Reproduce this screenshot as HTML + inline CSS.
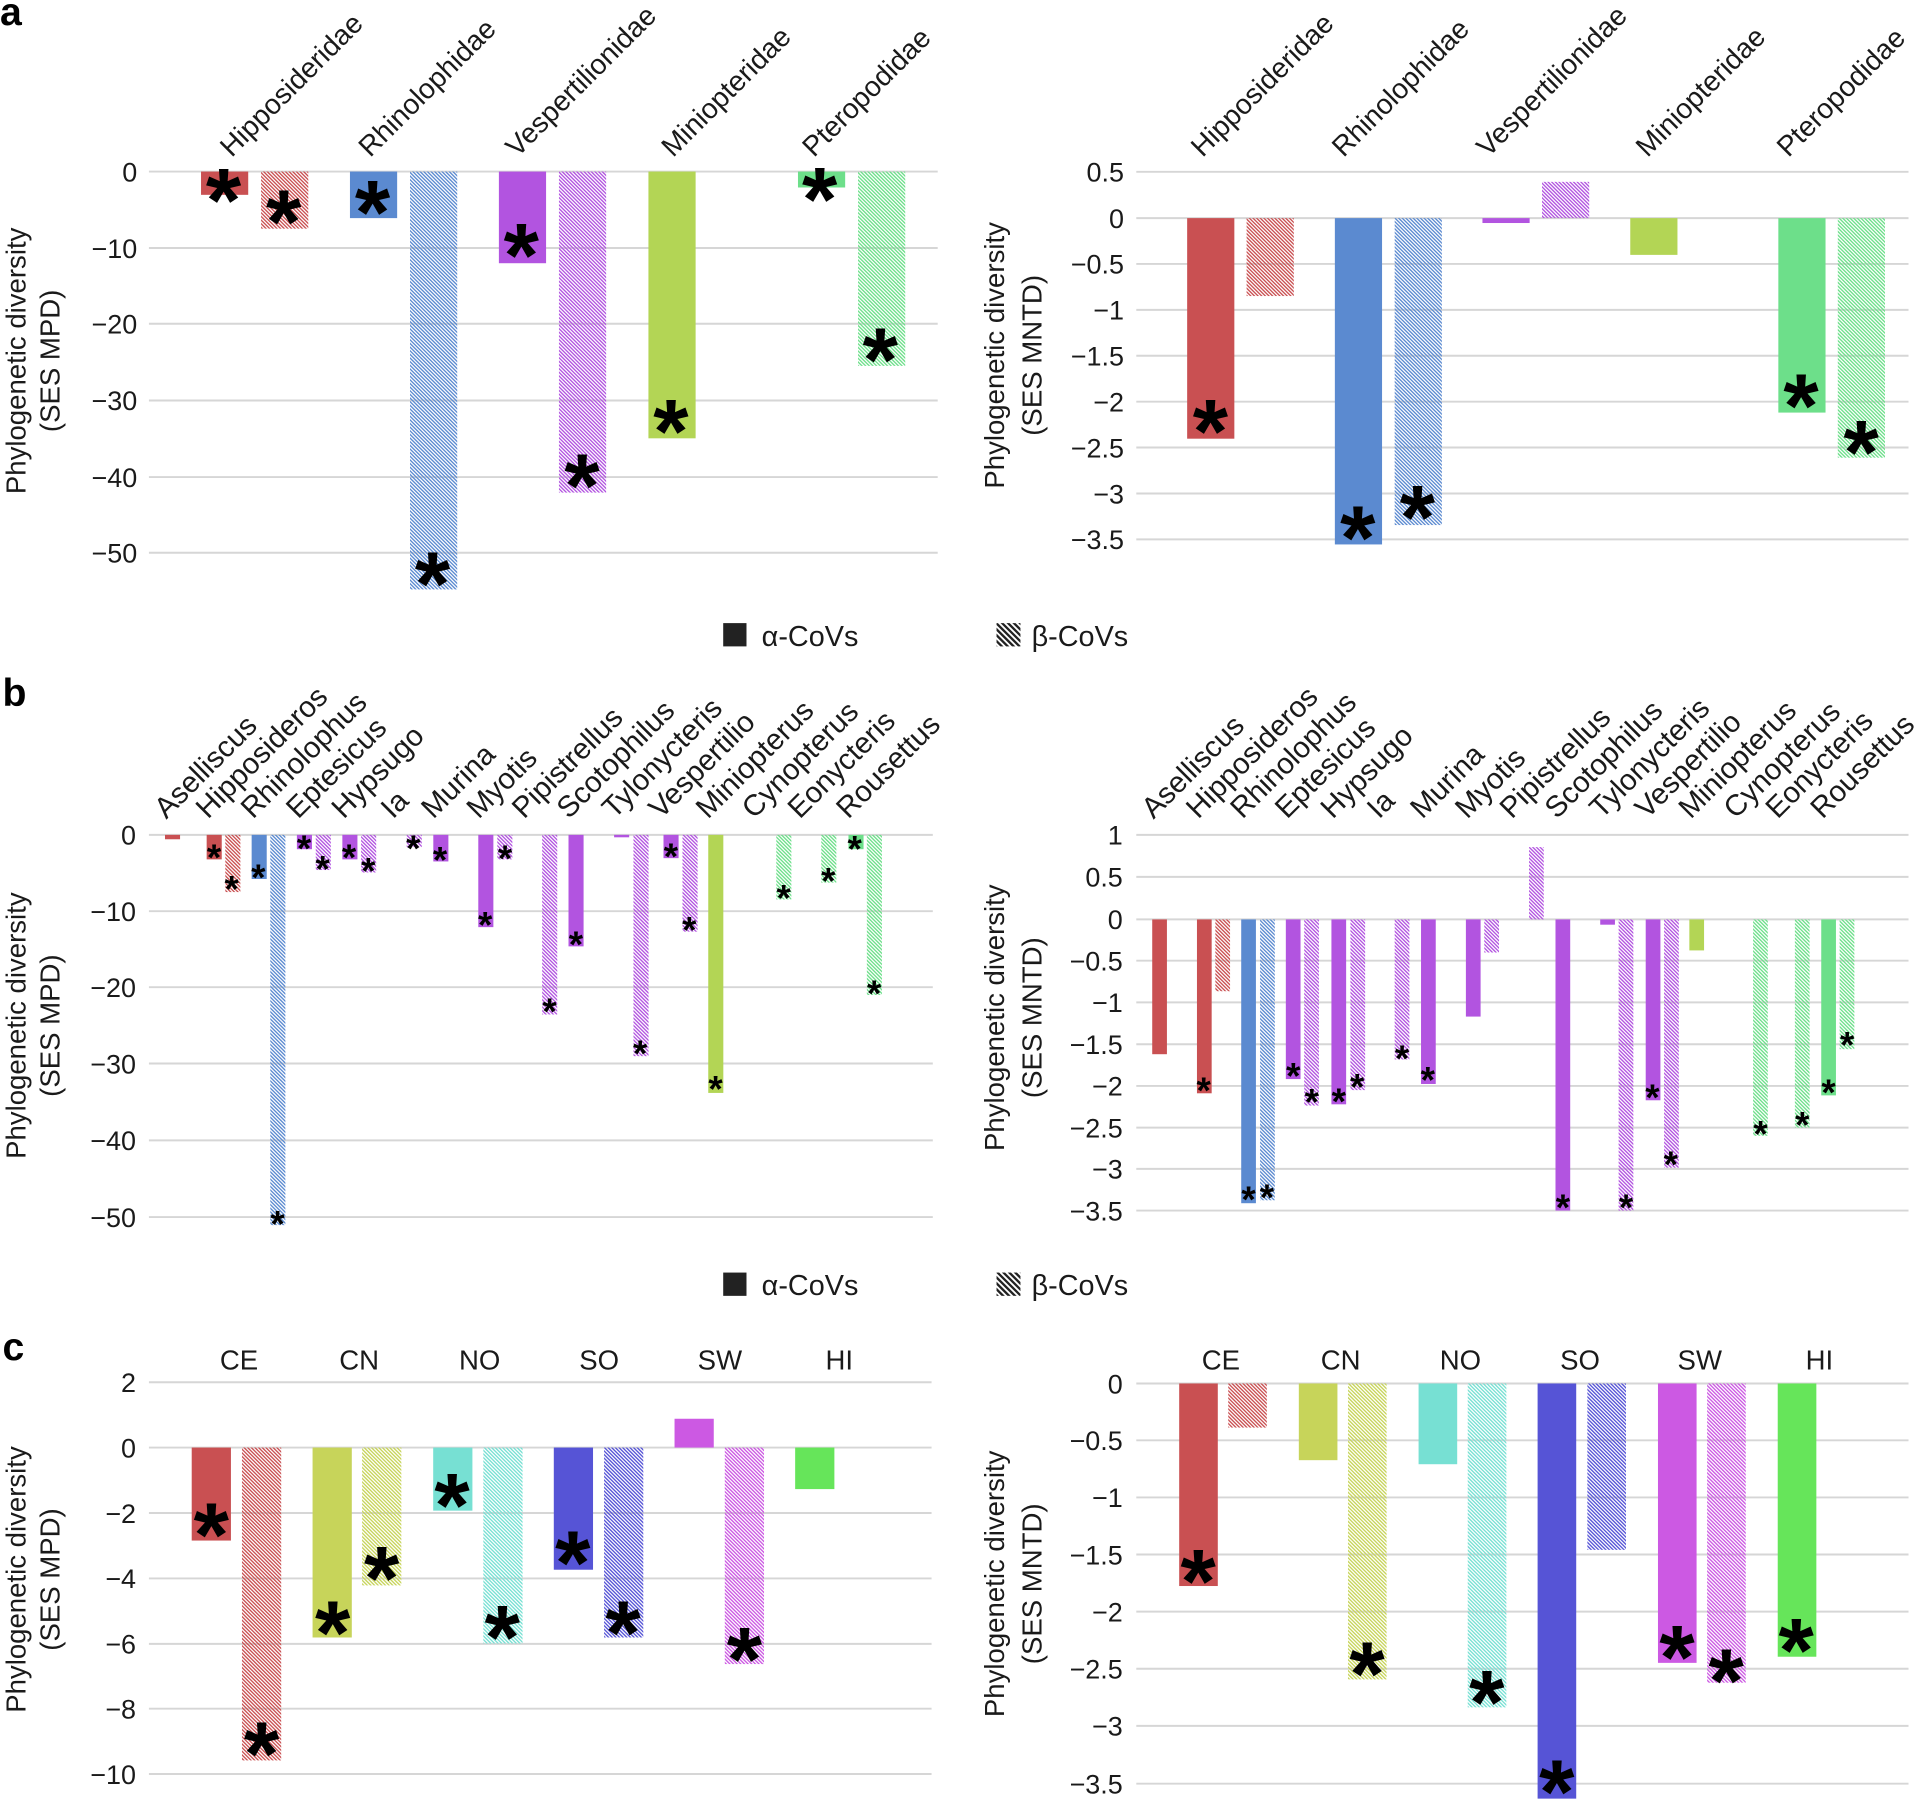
<!DOCTYPE html>
<html><head><meta charset="utf-8"><style>
html,body{margin:0;padding:0;background:#fff;}
svg{display:block;}
.t{font-family:"Liberation Sans",Arial,sans-serif;fill:#1a1a1a;}
.tick{font-size:22px;text-anchor:end;}
.ttl{font-size:22.5px;text-anchor:middle;}
.ca{font-size:23px;}
.cb{font-size:24px;}
.cc{font-size:22.5px;text-anchor:middle;}
.ast{font-size:74px;font-weight:bold;text-anchor:middle;fill:#000;}
.asts{font-size:30px;font-weight:bold;text-anchor:middle;fill:#000;}
.lg{font-size:23.5px;}
.pl{font-size:32px;font-weight:bold;fill:#000;}
.g{stroke:#d6d6d6;stroke-width:1.6;}
</style></head><body>
<svg width="1922" height="1805" viewBox="0 0 1568 1473" preserveAspectRatio="none" xmlns="http://www.w3.org/2000/svg">
<defs>
<pattern id="pR" width="2.1" height="4" patternUnits="userSpaceOnUse" patternTransform="rotate(-45)"><rect width="1.1" height="4" fill="#c95052"/></pattern>
<pattern id="pB" width="2.1" height="4" patternUnits="userSpaceOnUse" patternTransform="rotate(-45)"><rect width="1.1" height="4" fill="#5b8ad0"/></pattern>
<pattern id="pP" width="2.1" height="4" patternUnits="userSpaceOnUse" patternTransform="rotate(-45)"><rect width="1.1" height="4" fill="#b254e0"/></pattern>
<pattern id="pG" width="2.1" height="4" patternUnits="userSpaceOnUse" patternTransform="rotate(-45)"><rect width="1.1" height="4" fill="#6ddf8a"/></pattern>
<pattern id="pCN" width="2.1" height="4" patternUnits="userSpaceOnUse" patternTransform="rotate(-45)"><rect width="1.1" height="4" fill="#c7d45a"/></pattern>
<pattern id="pNO" width="2.1" height="4" patternUnits="userSpaceOnUse" patternTransform="rotate(-45)"><rect width="1.1" height="4" fill="#77e0d3"/></pattern>
<pattern id="pSO" width="2.1" height="4" patternUnits="userSpaceOnUse" patternTransform="rotate(-45)"><rect width="1.1" height="4" fill="#5654d6"/></pattern>
<pattern id="pSW" width="2.1" height="4" patternUnits="userSpaceOnUse" patternTransform="rotate(-45)"><rect width="1.1" height="4" fill="#cc59e3"/></pattern>
<pattern id="pK" width="3.4" height="4" patternUnits="userSpaceOnUse" patternTransform="rotate(-45)"><rect width="1.9" height="4" fill="#222"/></pattern>
</defs>
<rect x="0" y="0" width="1568" height="1473" fill="#fff"/>

<!-- ============ PANEL A ============ -->
<text class="t pl" x="0" y="20.6">a</text>
<g class="g">
<line x1="121.5" y1="140" x2="765" y2="140"/>
<line x1="121.5" y1="202.4" x2="765" y2="202.4"/>
<line x1="121.5" y1="264.2" x2="765" y2="264.2"/>
<line x1="121.5" y1="326.8" x2="765" y2="326.8"/>
<line x1="121.5" y1="389.3" x2="765" y2="389.3"/>
<line x1="121.5" y1="451.1" x2="765" y2="451.1"/>
</g>
<g class="t tick">
<text x="112" y="148">0</text>
<text x="112" y="210.4">−10</text>
<text x="112" y="272.2">−20</text>
<text x="112" y="334.8">−30</text>
<text x="112" y="397.3">−40</text>
<text x="112" y="459.1">−50</text>
</g>
<text class="t ttl" transform="translate(21,294.5) rotate(-90)">Phylogenetic diversity</text>
<text class="t ttl" transform="translate(48.5,294.5) rotate(-90)">(SES MPD)</text>
<g class="t ca">
<text transform="translate(189,129) rotate(-45)">Hipposideridae</text>
<text transform="translate(302,129) rotate(-45)">Rhinolophidae</text>
<text transform="translate(422,129) rotate(-45)">Vespertilionidae</text>
<text transform="translate(549,129) rotate(-45)">Miniopteridae</text>
<text transform="translate(664,129) rotate(-45)">Pteropodidae</text>
</g>
<rect x="164" y="140" width="38.5" height="19" fill="#c95052"/>
<rect x="213" y="140" width="38.5" height="46.6" fill="url(#pR)"/>
<rect x="285.5" y="140" width="38.5" height="38" fill="#5b8ad0"/>
<rect x="334.5" y="140" width="38.5" height="341" fill="url(#pB)"/>
<rect x="407" y="140" width="38.5" height="74.8" fill="#b254e0"/>
<rect x="456" y="140" width="38.5" height="262" fill="url(#pP)"/>
<rect x="529" y="140" width="38.5" height="217.7" fill="#b3d555"/>
<rect x="651" y="140" width="38.5" height="13" fill="#6ddf8a"/>
<rect x="700" y="140" width="38.5" height="158.6" fill="url(#pG)"/>
<g class="t ast" transform="translate(0,-6.5)">
<text x="182.4" y="195.6">*</text>
<text x="231.4" y="212.8">*</text>
<text x="303.9" y="205.2">*</text>
<text x="352.9" y="508.3">*</text>
<text x="425.3" y="240.3">*</text>
<text x="474.8" y="428.5">*</text>
<text x="547.3" y="383.9">*</text>
<text x="668.7" y="194.6">*</text>
<text x="718.2" y="325.5">*</text>
</g>

<g class="g">
<line x1="927" y1="140.2" x2="1557" y2="140.2"/>
<line x1="927" y1="178" x2="1557" y2="178"/>
<line x1="927" y1="215.4" x2="1557" y2="215.4"/>
<line x1="927" y1="252.9" x2="1557" y2="252.9"/>
<line x1="927" y1="290.3" x2="1557" y2="290.3"/>
<line x1="927" y1="327.8" x2="1557" y2="327.8"/>
<line x1="927" y1="365.2" x2="1557" y2="365.2"/>
<line x1="927" y1="402.7" x2="1557" y2="402.7"/>
<line x1="927" y1="440.2" x2="1557" y2="440.2"/>
</g>
<g class="t tick">
<text x="917" y="148.2">0.5</text>
<text x="917" y="186">0</text>
<text x="917" y="223.4">−0.5</text>
<text x="917" y="260.9">−1</text>
<text x="917" y="298.3">−1.5</text>
<text x="917" y="335.8">−2</text>
<text x="917" y="373.2">−2.5</text>
<text x="917" y="410.7">−3</text>
<text x="917" y="448.2">−3.5</text>
</g>
<text class="t ttl" transform="translate(819,290) rotate(-90)">Phylogenetic diversity</text>
<text class="t ttl" transform="translate(849.5,290) rotate(-90)">(SES MNTD)</text>
<g class="t ca">
<text transform="translate(981,129) rotate(-45)">Hipposideridae</text>
<text transform="translate(1096,129) rotate(-45)">Rhinolophidae</text>
<text transform="translate(1214,129) rotate(-45)">Vespertilionidae</text>
<text transform="translate(1344,129) rotate(-45)">Miniopteridae</text>
<text transform="translate(1459,129) rotate(-45)">Pteropodidae</text>
</g>
<rect x="968.5" y="178" width="38.5" height="180" fill="#c95052"/>
<rect x="1017" y="178" width="38.5" height="63.6" fill="url(#pR)"/>
<rect x="1089" y="178" width="38.5" height="266.3" fill="#5b8ad0"/>
<rect x="1137.8" y="178" width="38.5" height="250.5" fill="url(#pB)"/>
<rect x="1209.4" y="178" width="38.5" height="4" fill="#b254e0"/>
<rect x="1258" y="148.4" width="38.5" height="29.6" fill="url(#pP)"/>
<rect x="1330" y="178" width="38.5" height="30" fill="#b3d555"/>
<rect x="1450.8" y="178" width="38.5" height="158.7" fill="#6ddf8a"/>
<rect x="1499.3" y="178" width="38.5" height="195.5" fill="url(#pG)"/>
<g class="t ast" transform="translate(0,-6.5)">
<text x="987.5" y="383.9">*</text>
<text x="1107.7" y="470.8">*</text>
<text x="1156.3" y="454.3">*</text>
<text x="1469.3" y="363.3">*</text>
<text x="1518.4" y="401">*</text>
</g>

<rect x="590" y="508.5" width="19" height="19" fill="#222"/>
<text class="t lg" x="621.4" y="527">α-CoVs</text>
<rect x="813" y="508.5" width="19.5" height="19" fill="url(#pK)"/>
<text class="t lg" x="841.6" y="527">β-CoVs</text>

<!-- ============ PANEL B ============ -->
<text class="t pl" x="2" y="576">b</text>
<g class="g">
<line x1="121.5" y1="681.3" x2="761" y2="681.3"/>
<line x1="121.5" y1="743.6" x2="761" y2="743.6"/>
<line x1="121.5" y1="805.6" x2="761" y2="805.6"/>
<line x1="121.5" y1="867.9" x2="761" y2="867.9"/>
<line x1="121.5" y1="930.6" x2="761" y2="930.6"/>
<line x1="121.5" y1="993.2" x2="761" y2="993.2"/>
</g>
<g class="t tick">
<text x="111" y="689.3">0</text>
<text x="111" y="751.6">−10</text>
<text x="111" y="813.6">−20</text>
<text x="111" y="875.9">−30</text>
<text x="111" y="938.6">−40</text>
<text x="111" y="1001.2">−50</text>
</g>
<text class="t ttl" transform="translate(21,837) rotate(-90)">Phylogenetic diversity</text>
<text class="t ttl" transform="translate(48.5,837) rotate(-90)">(SES MPD)</text>
<g class="t cb">
<text transform="translate(135.6,669) rotate(-45)">Aselliscus</text>
<text transform="translate(169.6,669) rotate(-45)">Hipposideros</text>
<text transform="translate(206.3,669) rotate(-45)">Rhinolophus</text>
<text transform="translate(243.2,669) rotate(-45)">Eptesicus</text>
<text transform="translate(280.3,669) rotate(-45)">Hypsugo</text>
<text transform="translate(320.5,669) rotate(-45)">Ia</text>
<text transform="translate(353.5,669) rotate(-45)">Murina</text>
<text transform="translate(390.5,669) rotate(-45)">Myotis</text>
<text transform="translate(427.5,669) rotate(-45)">Pipistrellus</text>
<text transform="translate(464,669) rotate(-45)">Scotophilus</text>
<text transform="translate(501,669) rotate(-45)">Tylonycteris</text>
<text transform="translate(539,669) rotate(-45)">Vespertilio</text>
<text transform="translate(577.5,669) rotate(-45)">Miniopterus</text>
<text transform="translate(615,669) rotate(-45)">Cynopterus</text>
<text transform="translate(652.5,669) rotate(-45)">Eonycteris</text>
<text transform="translate(692,669) rotate(-45)">Rousettus</text>
</g>
<rect x="134.6" y="681.3" width="12.3" height="3.6" fill="#c95052"/>
<rect x="168.6" y="681.3" width="12.3" height="20" fill="#c95052"/>
<rect x="183.8" y="681.3" width="12.3" height="46.7" fill="url(#pR)"/>
<rect x="205.3" y="681.3" width="12.3" height="36" fill="#5b8ad0"/>
<rect x="220.5" y="681.3" width="12.3" height="318.5" fill="url(#pB)"/>
<rect x="242.2" y="681.3" width="12.3" height="11.7" fill="#b254e0"/>
<rect x="257.6" y="681.3" width="12.3" height="28.7" fill="url(#pP)"/>
<rect x="279.3" y="681.3" width="12.3" height="20" fill="#b254e0"/>
<rect x="294.6" y="681.3" width="12.3" height="30.7" fill="url(#pP)"/>
<rect x="331.8" y="681.3" width="12.3" height="10" fill="url(#pP)"/>
<rect x="353.5" y="681.3" width="12.3" height="21.7" fill="#b254e0"/>
<rect x="390.2" y="681.3" width="12.3" height="75.3" fill="#b254e0"/>
<rect x="405.7" y="681.3" width="12.3" height="20" fill="url(#pP)"/>
<rect x="442.3" y="681.3" width="12.3" height="146.6" fill="url(#pP)"/>
<rect x="463.8" y="681.3" width="12.3" height="91" fill="#b254e0"/>
<rect x="501" y="681.3" width="12.3" height="2" fill="#b254e0"/>
<rect x="516.8" y="681.3" width="12.3" height="180.6" fill="url(#pP)"/>
<rect x="541.3" y="681.3" width="12.3" height="19" fill="#b254e0"/>
<rect x="556.8" y="681.3" width="12.3" height="79" fill="url(#pP)"/>
<rect x="577.8" y="681.3" width="12.3" height="210.6" fill="#b3d555"/>
<rect x="633.3" y="681.3" width="12.3" height="52.7" fill="url(#pG)"/>
<rect x="670" y="681.3" width="12.3" height="39" fill="url(#pG)"/>
<rect x="692.2" y="681.3" width="12.3" height="11.7" fill="#6ddf8a"/>
<rect x="707.2" y="681.3" width="12.3" height="130.7" fill="url(#pG)"/>
<g class="t asts" transform="translate(0,-4.5)">
<text x="174.6" y="714.6">*</text>
<text x="189" y="740.3">*</text>
<text x="210.7" y="731">*</text>
<text x="226.4" y="1013.5">*</text>
<text x="248" y="707">*</text>
<text x="263.2" y="723.9">*</text>
<text x="284.7" y="714.6">*</text>
<text x="300.5" y="725.5">*</text>
<text x="337.2" y="707">*</text>
<text x="359" y="716.5">*</text>
<text x="395.8" y="769.6">*</text>
<text x="412" y="715.1">*</text>
<text x="448.3" y="840.3">*</text>
<text x="469.8" y="785.6">*</text>
<text x="522.3" y="874.6">*</text>
<text x="547.3" y="713.6">*</text>
<text x="562.3" y="773.6">*</text>
<text x="583.8" y="903.6">*</text>
<text x="639.3" y="747.6">*</text>
<text x="675.7" y="733.6">*</text>
<text x="697.2" y="707.6">*</text>
<text x="713.2" y="825.3">*</text>
</g>

<g class="g">
<line x1="927" y1="681.3" x2="1557" y2="681.3"/>
<line x1="927" y1="715.6" x2="1557" y2="715.6"/>
<line x1="927" y1="750.3" x2="1557" y2="750.3"/>
<line x1="927" y1="784" x2="1557" y2="784"/>
<line x1="927" y1="818" x2="1557" y2="818"/>
<line x1="927" y1="852.2" x2="1557" y2="852.2"/>
<line x1="927" y1="886.2" x2="1557" y2="886.2"/>
<line x1="927" y1="920.2" x2="1557" y2="920.2"/>
<line x1="927" y1="953.9" x2="1557" y2="953.9"/>
<line x1="927" y1="987.9" x2="1557" y2="987.9"/>
</g>
<g class="t tick">
<text x="916" y="689.3">1</text>
<text x="916" y="723.6">0.5</text>
<text x="916" y="758.3">0</text>
<text x="916" y="792">−0.5</text>
<text x="916" y="826">−1</text>
<text x="916" y="860.2">−1.5</text>
<text x="916" y="894.2">−2</text>
<text x="916" y="928.2">−2.5</text>
<text x="916" y="961.9">−3</text>
<text x="916" y="995.9">−3.5</text>
</g>
<text class="t ttl" transform="translate(819,830.5) rotate(-90)">Phylogenetic diversity</text>
<text class="t ttl" transform="translate(849.5,830.5) rotate(-90)">(SES MNTD)</text>
<g class="t cb">
<text transform="translate(941,669) rotate(-45)">Aselliscus</text>
<text transform="translate(977.5,669) rotate(-45)">Hipposideros</text>
<text transform="translate(1013.6,669) rotate(-45)">Rhinolophus</text>
<text transform="translate(1050,669) rotate(-45)">Eptesicus</text>
<text transform="translate(1087.2,669) rotate(-45)">Hypsugo</text>
<text transform="translate(1125,669) rotate(-45)">Ia</text>
<text transform="translate(1160.3,669) rotate(-45)">Murina</text>
<text transform="translate(1196.9,669) rotate(-45)">Myotis</text>
<text transform="translate(1233.3,669) rotate(-45)">Pipistrellus</text>
<text transform="translate(1270,669) rotate(-45)">Scotophilus</text>
<text transform="translate(1306.5,669) rotate(-45)">Tylonycteris</text>
<text transform="translate(1343.6,669) rotate(-45)">Vespertilio</text>
<text transform="translate(1379.2,669) rotate(-45)">Miniopterus</text>
<text transform="translate(1416,669) rotate(-45)">Cynopterus</text>
<text transform="translate(1450.2,669) rotate(-45)">Eonycteris</text>
<text transform="translate(1486.8,669) rotate(-45)">Rousettus</text>
</g>
<rect x="940" y="750.3" width="12" height="110" fill="#c95052"/>
<rect x="976.5" y="750.3" width="12" height="141.9" fill="#c95052"/>
<rect x="991.5" y="750.3" width="12" height="58.6" fill="url(#pR)"/>
<rect x="1012.6" y="750.3" width="12" height="231.6" fill="#5b8ad0"/>
<rect x="1028" y="750.3" width="12" height="229.2" fill="url(#pB)"/>
<rect x="1049" y="750.3" width="12" height="130.3" fill="#b254e0"/>
<rect x="1064" y="750.3" width="12" height="151.9" fill="url(#pP)"/>
<rect x="1086.2" y="750.3" width="12" height="150.9" fill="#b254e0"/>
<rect x="1101.7" y="750.3" width="12" height="139.3" fill="url(#pP)"/>
<rect x="1137.8" y="750.3" width="12" height="114.3" fill="url(#pP)"/>
<rect x="1159.3" y="750.3" width="12" height="134.3" fill="#b254e0"/>
<rect x="1195.9" y="750.3" width="12" height="79.3" fill="#b254e0"/>
<rect x="1210.9" y="750.3" width="12" height="27" fill="url(#pP)"/>
<rect x="1247.4" y="691.3" width="12" height="59" fill="url(#pP)"/>
<rect x="1269" y="750.3" width="12" height="237.6" fill="#b254e0"/>
<rect x="1305.5" y="750.3" width="12" height="4.3" fill="#b254e0"/>
<rect x="1320.5" y="750.3" width="12" height="237.6" fill="url(#pP)"/>
<rect x="1342.6" y="750.3" width="12" height="147.6" fill="#b254e0"/>
<rect x="1357.6" y="750.3" width="12" height="202.6" fill="url(#pP)"/>
<rect x="1378.2" y="750.3" width="12" height="25.3" fill="#b3d555"/>
<rect x="1430.2" y="750.3" width="12" height="176.6" fill="url(#pG)"/>
<rect x="1464.3" y="750.3" width="12" height="169.9" fill="url(#pG)"/>
<rect x="1485.8" y="750.3" width="12" height="143.6" fill="#6ddf8a"/>
<rect x="1500.8" y="750.3" width="12" height="105.9" fill="url(#pG)"/>
<g class="t asts" transform="translate(0,-4.5)">
<text x="982" y="904.6">*</text>
<text x="1018.6" y="993.5">*</text>
<text x="1033.6" y="991.9">*</text>
<text x="1055.1" y="892.9">*</text>
<text x="1070.2" y="914.2">*</text>
<text x="1092.2" y="913.6">*</text>
<text x="1107.2" y="901.9">*</text>
<text x="1143.8" y="878.6">*</text>
<text x="1164.8" y="896.2">*</text>
<text x="1275" y="1000.2">*</text>
<text x="1326.6" y="1000.2">*</text>
<text x="1348.1" y="910.2">*</text>
<text x="1363.1" y="965.2">*</text>
<text x="1436.3" y="940.2">*</text>
<text x="1470.3" y="932.9">*</text>
<text x="1491.8" y="906.2">*</text>
<text x="1506.9" y="867.6">*</text>
</g>

<rect x="590" y="1038.5" width="19" height="19" fill="#222"/>
<text class="t lg" x="621.4" y="1057">α-CoVs</text>
<rect x="813" y="1038.5" width="19.5" height="19" fill="url(#pK)"/>
<text class="t lg" x="841.6" y="1057">β-CoVs</text>

<!-- ============ PANEL C ============ -->
<text class="t pl" x="2" y="1110">c</text>
<g class="g">
<line x1="121.5" y1="1128" x2="760" y2="1128"/>
<line x1="121.5" y1="1181.3" x2="760" y2="1181.3"/>
<line x1="121.5" y1="1234.7" x2="760" y2="1234.7"/>
<line x1="121.5" y1="1288.1" x2="760" y2="1288.1"/>
<line x1="121.5" y1="1341.5" x2="760" y2="1341.5"/>
<line x1="121.5" y1="1394.4" x2="760" y2="1394.4"/>
<line x1="121.5" y1="1447.7" x2="760" y2="1447.7"/>
</g>
<g class="t tick">
<text x="111" y="1136">2</text>
<text x="111" y="1189.3">0</text>
<text x="111" y="1242.7">−2</text>
<text x="111" y="1296.1">−4</text>
<text x="111" y="1349.5">−6</text>
<text x="111" y="1402.4">−8</text>
<text x="111" y="1455.7">−10</text>
</g>
<text class="t ttl" transform="translate(21,1289) rotate(-90)">Phylogenetic diversity</text>
<text class="t ttl" transform="translate(48.5,1289) rotate(-90)">(SES MPD)</text>
<g class="t cc">
<text x="195" y="1117.7">CE</text>
<text x="293" y="1117.7">CN</text>
<text x="391.3" y="1117.7">NO</text>
<text x="488.8" y="1117.7">SO</text>
<text x="587.3" y="1117.7">SW</text>
<text x="684.7" y="1117.7">HI</text>
</g>
<rect x="156.4" y="1181.3" width="32" height="75.9" fill="#c95052"/>
<rect x="197.4" y="1181.3" width="32" height="255.3" fill="url(#pR)"/>
<rect x="255" y="1181.3" width="32" height="155" fill="#c7d45a"/>
<rect x="295.4" y="1181.3" width="32" height="112.5" fill="url(#pCN)"/>
<rect x="353.4" y="1181.3" width="32" height="51.5" fill="#77e0d3"/>
<rect x="394.3" y="1181.3" width="32" height="159.9" fill="url(#pNO)"/>
<rect x="451.8" y="1181.3" width="32" height="99.7" fill="#5654d6"/>
<rect x="492.8" y="1181.3" width="32" height="155" fill="url(#pSO)"/>
<rect x="550.3" y="1157.8" width="32" height="23.5" fill="#cc59e3"/>
<rect x="591.3" y="1181.3" width="32" height="176.7" fill="url(#pSW)"/>
<rect x="648.7" y="1181.3" width="32" height="33.9" fill="#66e55a"/>
<g class="t ast" transform="translate(0,-6.5)">
<text x="172.4" y="1284.3">*</text>
<text x="213.4" y="1463.2">*</text>
<text x="271.4" y="1364.3">*</text>
<text x="311.4" y="1320.1">*</text>
<text x="368.8" y="1260.5">*</text>
<text x="409.8" y="1368.3">*</text>
<text x="467.3" y="1307.3">*</text>
<text x="508.3" y="1364.3">*</text>
<text x="607.3" y="1385.9">*</text>
</g>

<g class="g">
<line x1="927" y1="1129" x2="1557" y2="1129"/>
<line x1="927" y1="1175.4" x2="1557" y2="1175.4"/>
<line x1="927" y1="1222" x2="1557" y2="1222"/>
<line x1="927" y1="1268.6" x2="1557" y2="1268.6"/>
<line x1="927" y1="1315.2" x2="1557" y2="1315.2"/>
<line x1="927" y1="1361.8" x2="1557" y2="1361.8"/>
<line x1="927" y1="1408.4" x2="1557" y2="1408.4"/>
<line x1="927" y1="1455.6" x2="1557" y2="1455.6"/>
</g>
<g class="t tick">
<text x="916" y="1137">0</text>
<text x="916" y="1183.4">−0.5</text>
<text x="916" y="1230">−1</text>
<text x="916" y="1276.6">−1.5</text>
<text x="916" y="1323.2">−2</text>
<text x="916" y="1369.8">−2.5</text>
<text x="916" y="1416.4">−3</text>
<text x="916" y="1463.6">−3.5</text>
</g>
<text class="t ttl" transform="translate(819,1292.5) rotate(-90)">Phylogenetic diversity</text>
<text class="t ttl" transform="translate(849.5,1292.5) rotate(-90)">(SES MNTD)</text>
<g class="t cc">
<text x="996" y="1117.7">CE</text>
<text x="1093.7" y="1117.7">CN</text>
<text x="1191.4" y="1117.7">NO</text>
<text x="1289" y="1117.7">SO</text>
<text x="1386.7" y="1117.7">SW</text>
<text x="1484.3" y="1117.7">HI</text>
</g>
<rect x="962" y="1129" width="31.5" height="165.3" fill="#c95052"/>
<rect x="1002" y="1129" width="31.5" height="36" fill="url(#pR)"/>
<rect x="1059.6" y="1129" width="31.5" height="62.6" fill="#c7d45a"/>
<rect x="1099.7" y="1129" width="31.5" height="241.5" fill="url(#pCN)"/>
<rect x="1157.3" y="1129" width="31.5" height="65.9" fill="#77e0d3"/>
<rect x="1197.4" y="1129" width="31.5" height="264.3" fill="url(#pNO)"/>
<rect x="1254.4" y="1129" width="31.5" height="338.8" fill="#5654d6"/>
<rect x="1295" y="1129" width="31.5" height="135.8" fill="url(#pSO)"/>
<rect x="1352.6" y="1129" width="31.5" height="228" fill="#cc59e3"/>
<rect x="1392.7" y="1129" width="31.5" height="244.2" fill="url(#pSW)"/>
<rect x="1450.3" y="1129" width="31.5" height="223" fill="#66e55a"/>
<g class="t ast" transform="translate(0,-6.5)">
<text x="977.5" y="1322.3">*</text>
<text x="1115.2" y="1398.1">*</text>
<text x="1212.9" y="1421.2">*</text>
<text x="1270" y="1494.3">*</text>
<text x="1368.1" y="1384.6">*</text>
<text x="1408.2" y="1403.6">*</text>
<text x="1465.3" y="1378.6">*</text>
</g>
</svg>
</body></html>
